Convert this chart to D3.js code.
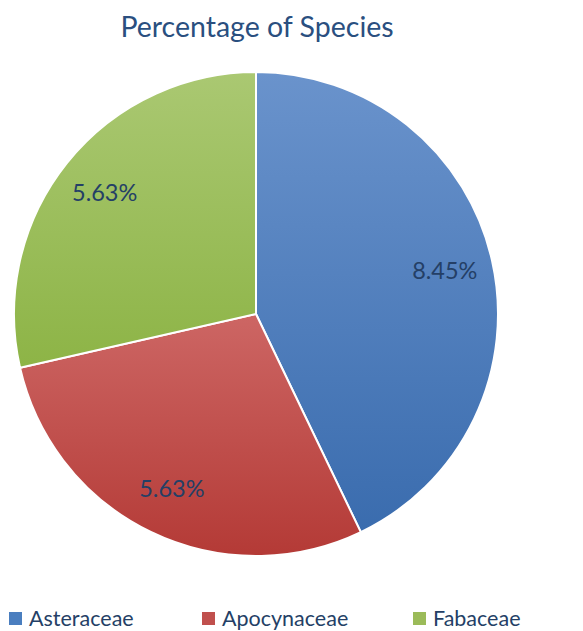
<!DOCTYPE html>
<html>
<head>
<meta charset="utf-8">
<script src="https://cdn.jsdelivr.net/npm/d3@7"></script>
<style>
  body { margin: 0; background: #fff; }
  svg { display: block; font-family: Lato, "Open Sans", sans-serif; }
</style>
</head>
<body>
<div id="chart"></div>
<script>
const categories = ['Asteraceae', 'Apocynaceae', 'Fabaceae'];
const values = [8.45, 5.63, 5.63];
const labels = ['8.45%', '5.63%', '5.63%'];
const colorsTop = ['#6a93cc', '#cd6664', '#aac872'];
const colorsBottom = ['#3a6cae', '#b43a36', '#8db446'];
const legendColors = ['#4a7ebf', '#c0504d', '#9bbb59'];

const W = 583, H = 631;
const cx = 256, cy = 314, r = 242;

const svg = d3.select('#chart').append('svg').attr('width', W).attr('height', H);

svg.append('text').attr('x', 257).attr('y', 37).attr('text-anchor', 'middle')
  .style('font-size', '28.5px').style('fill', '#2a4f7f').text('Percentage of Species');

const defs = svg.append('defs');
categories.forEach((c, i) => {
  const g = defs.append('linearGradient').attr('id', 'grad' + i)
    .attr('x1', 0).attr('y1', 0).attr('x2', 0).attr('y2', 1);
  g.append('stop').attr('offset', '0%').attr('stop-color', colorsTop[i]);
  g.append('stop').attr('offset', '100%').attr('stop-color', colorsBottom[i]);
});

const data = categories.map((c, i) => ({ name: c, value: values[i], label: labels[i], i }));
const pie = d3.pie().value(d => d.value).sort(null);
const arcs = pie(data);
const arc = d3.arc().innerRadius(0).outerRadius(r);
const labelArc = d3.arc().innerRadius(r * 0.8).outerRadius(r * 0.8);

const g = svg.append('g').attr('transform', `translate(${cx},${cy})`);
g.selectAll('path.slice').data(arcs).enter().append('path')
  .attr('class', 'slice')
  .attr('d', arc)
  .attr('fill', d => `url(#grad${d.data.i})`)
  .attr('stroke', '#fff').attr('stroke-width', 2);

g.selectAll('text.lbl').data(arcs).enter().append('text')
  .attr('class', 'lbl')
  .attr('transform', d => {
    const [x, y] = labelArc.centroid(d);
    return `translate(${x},${y})`;
  })
  .attr('text-anchor', 'middle').attr('dy', '0.35em')
  .style('font-size', '23.5px').style('fill', '#243f66')
  .text(d => d.data.label);

const legendX = [9, 202, 413];
const leg = svg.append('g');
categories.forEach((c, i) => {
  leg.append('rect').attr('x', legendX[i]).attr('y', 612).attr('width', 13).attr('height', 13)
    .attr('fill', legendColors[i]);
  leg.append('text').attr('x', legendX[i] + 20).attr('y', 626)
    .style('font-size', '21.5px').style('fill', '#243f66').text(c);
});
</script>
</body>
</html>
